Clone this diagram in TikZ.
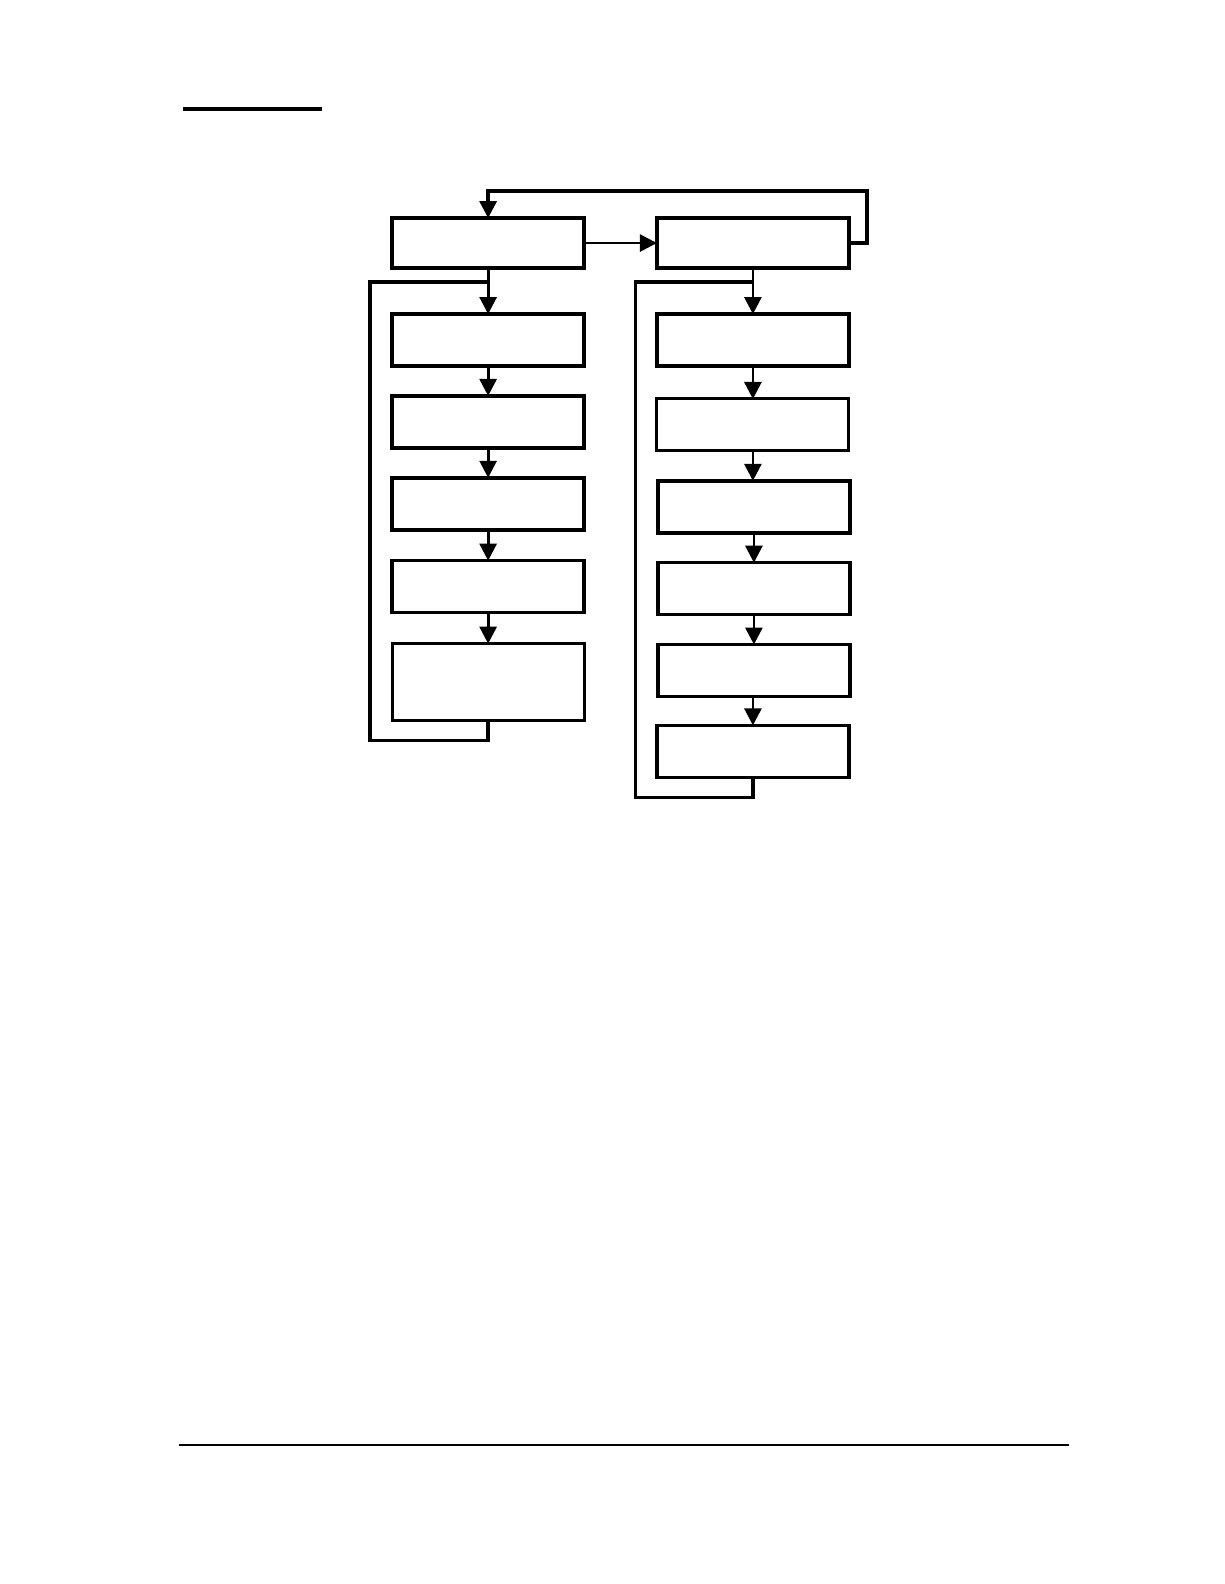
\documentclass[tikz,border=0pt]{standalone}
\usetikzlibrary{arrows.meta}
\begin{document}
\begin{tikzpicture}[x=1.0106pt,y=-1.0106pt,
  box/.style={draw,line width=3.6pt,rectangle,inner sep=0pt,outer sep=0pt,minimum width=192pt},
  conn/.style={line width=2.8pt,-{Triangle[width=17pt,length=17pt]}},
  wire/.style={line width=3.3pt}]
\useasboundingbox (0pt,0pt) rectangle (1224pt,-1584pt);
% left column
\node[box,minimum height=50pt] (L0) at (483,240.5) {};
\node[box,minimum height=52pt] (L1) at (483,336.5) {};
\node[box,minimum height=52pt] (L2) at (483,417.5) {};
\node[box,minimum height=52pt] (L3) at (483,498.5) {};
\node[box,minimum height=52pt] (L4) at (483,580.5) {};
\node[box,minimum height=77pt,line width=2.8pt] (L5) at (483,675) {};
% right column
\node[box,minimum height=50pt] (R0) at (745,240.5) {};
\node[box,minimum height=52pt] (R1) at (745,336.5) {};
\node[box,minimum height=52pt,line width=3pt] (R2) at (745,420.5) {};
\node[box,minimum height=52pt] (R3) at (746,501.5) {};
\node[box,minimum height=52pt] (R4) at (746,582.5) {};
\node[box,minimum height=52pt] (R5) at (746,663.5) {};
\node[box,minimum height=52pt] (R6) at (745,743.5) {};
% coordinates for loops
\coordinate (tl) at (483,189);
\coordinate (tr) at (858,189);
\coordinate (LlA) at (483,733);
\coordinate (LlB) at (366,733);
\coordinate (LlC) at (366,279);
\coordinate (LlD) at (483,279);
\coordinate (RlA) at (745,789);
\coordinate (RlB) at (629,789);
\coordinate (RlC) at (629,279);
\coordinate (RlD) at (745,279);
% vertical arrows
\draw[conn] (L0) -- (L1);
\draw[conn] (L1) -- (L2);
\draw[conn] (L2) -- (L3);
\draw[conn] (L3) -- (L4);
\draw[conn] (L4) -- (L5);
\draw[conn] (R0) -- (R1);
\draw[conn] (R1.south) -- (R2.north);
\draw[conn] (R2.south) -- (R2.south |- R3.north);
\draw[conn] (R3) -- (R4);
\draw[conn] (R4) -- (R5);
\draw[conn] (R5.south -| R6.north) -- (R6.north);
% horizontal arrow
\draw[conn] (L0) -- (R0);
% top loop
\draw[conn,line width=3.3pt,line join=miter] (R0.east) -| (tr) -- (tl) -- (L0.north);
% feedback loops
\draw[wire,line join=miter] (L5.south) -- (LlA) -- (LlB) -- (LlC) -- (LlD);
\draw[wire,line join=miter] (R6.south) -- (RlA) -- (RlB) -- (RlC) -- (RlD);
% decorative rules
\coordinate (u1) at (181,108);
\coordinate (u2) at (319,108);
\draw[line width=3.3pt] (u1) -- (u2);
\coordinate (b1) at (177,1430);
\coordinate (b2) at (1058,1430);
\draw[line width=1.6pt] (b1) -- (b2);
\end{tikzpicture}
\end{document}
